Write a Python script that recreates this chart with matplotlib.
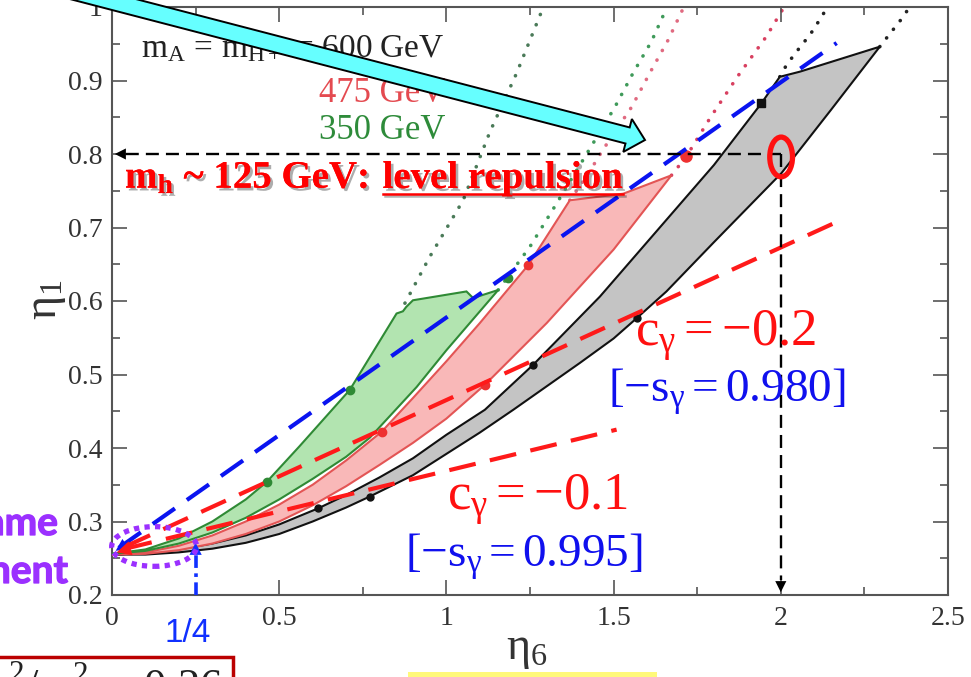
import numpy as np
import matplotlib
matplotlib.use('Agg')
import matplotlib.pyplot as plt
from matplotlib.patches import Ellipse, Polygon, Rectangle
import matplotlib.patheffects as pe

plt.rcParams['font.family'] = ['Liberation Serif', 'DejaVu Serif']
plt.rcParams['mathtext.fontset'] = 'custom'
plt.rcParams['mathtext.rm'] = 'Liberation Serif'
plt.rcParams['mathtext.it'] = 'Liberation Serif:italic'
plt.rcParams['mathtext.bf'] = 'Liberation Serif:bold'

# ---------------- data ----------------
# grey band (m_A = m_H+ = 600 GeV)
gray_upper_x = [0.0, 0.1, 0.2, 0.3, 0.4, 0.5, 0.617, 0.7, 0.8, 0.9, 1.0, 1.115, 1.259, 1.459, 1.6, 1.8, 1.942, 1.977, 1.997, 2.057, 2.296]
gray_upper_y = [0.255, 0.257, 0.262, 0.270, 0.281, 0.296, 0.318, 0.336, 0.360, 0.386, 0.418, 0.452, 0.513, 0.606, 0.680, 0.785, 0.869, 0.892, 0.905, 0.912, 0.946]
gray_lower_x = [0.0, 0.1, 0.2, 0.3, 0.4, 0.5, 0.6, 0.7, 0.771, 0.9, 1.0, 1.1, 1.2, 1.3, 1.4, 1.5, 1.57, 1.658, 1.8, 2.002, 2.15, 2.296]
gray_lower_y = [0.255, 0.255, 0.258, 0.263, 0.271, 0.283, 0.300, 0.319, 0.334, 0.363, 0.392, 0.421, 0.452, 0.484, 0.516, 0.549, 0.577, 0.613, 0.680, 0.774, 0.860, 0.946]

# red band (475 GeV)
red_upper_x = [0.0, 0.1, 0.2, 0.3, 0.4, 0.5, 0.6, 0.7, 0.806, 0.9, 1.0, 1.1, 1.245, 1.3, 1.369, 1.529, 1.673]
red_upper_y = [0.255, 0.258, 0.267, 0.281, 0.300, 0.323, 0.350, 0.383, 0.422, 0.468, 0.518, 0.570, 0.649, 0.688, 0.737, 0.746, 0.771]
red_lower_x = [0.0, 0.1, 0.2, 0.3, 0.4, 0.5, 0.6, 0.7, 0.8, 0.9, 1.0, 1.115, 1.3, 1.5, 1.673]
red_lower_y = [0.255, 0.256, 0.261, 0.270, 0.283, 0.300, 0.322, 0.348, 0.377, 0.407, 0.440, 0.486, 0.570, 0.670, 0.771]

# green band (350 GeV)
green_upper_x = [0.0, 0.1, 0.2, 0.3, 0.4, 0.463, 0.56, 0.711, 0.851, 0.87, 0.88, 0.90, 1.06, 1.08, 1.155]
green_upper_y = [0.256, 0.262, 0.277, 0.300, 0.330, 0.354, 0.402, 0.479, 0.583, 0.586, 0.592, 0.601, 0.613, 0.604, 0.615]
green_lower_x = [0.0, 0.1, 0.2, 0.3, 0.4, 0.5, 0.6, 0.7, 0.771, 0.911, 1.0, 1.155]
green_lower_y = [0.256, 0.260, 0.270, 0.285, 0.305, 0.330, 0.358, 0.388, 0.414, 0.483, 0.533, 0.615]

# dotted continuations
green_dot_a_x = [0.876, 0.95, 1.05, 1.13, 1.21, 1.29]
green_dot_a_y = [0.597, 0.660, 0.737, 0.830, 0.910, 1.0]
green_dot_b_x = [1.155, 1.25, 1.33, 1.426, 1.504, 1.558, 1.613, 1.66]
green_dot_b_y = [0.615, 0.674, 0.733, 0.805, 0.864, 0.910, 0.953, 1.0]
red_dot_a_x = [1.369, 1.42, 1.467, 1.554, 1.608, 1.663, 1.71]
red_dot_a_y = [0.737, 0.770, 0.805, 0.864, 0.910, 0.955, 1.0]
red_dot_b_x = [1.673, 1.718, 1.79, 1.87, 1.957, 2.01]
red_dot_b_y = [0.771, 0.797, 0.850, 0.905, 0.960, 1.0]
black_dot_a_x = [1.997, 2.017, 2.04, 2.062, 2.087, 2.107, 2.14]
black_dot_a_y = [0.905, 0.921, 0.935, 0.948, 0.962, 0.976, 1.0]
black_dot_b_x = [2.296, 2.32, 2.365, 2.385]
black_dot_b_y = [0.946, 0.960, 0.986, 1.0]

# marked points
green_pts_x = [0.463, 0.711, 1.185]
green_pts_y = [0.354, 0.479, 0.631]
red_pts_x = [0.806, 1.115, 1.245]
red_pts_y = [0.422, 0.486, 0.649]
red_big_x = [1.718]
red_big_y = [0.797]
black_pts_x = [0.617, 0.771, 1.259, 1.57]
black_pts_y = [0.318, 0.334, 0.513, 0.577]
black_sq_x = [1.942]
black_sq_y = [0.869]

# straight guide lines
blue_line_x = [0.02, 2.167]
blue_line_y = [0.264, 0.951]
c02_line_x = [0.04, 2.155]
c02_line_y = [0.266, 0.705]
c01_line_x = [0.04, 1.509]
c01_line_y = [0.263, 0.425]
h_line_x = [2.0, 0.0]
h_line_y = [0.8, 0.8]
v_line_x = [2.0, 2.0]
v_line_y = [0.8, 0.2]
quarter_x = [0.25, 0.25]
quarter_y = [0.2, 0.275]

xticks = [0, 0.5, 1, 1.5, 2, 2.5]
xticklabels = ['0', '0.5', '1', '1.5', '2', '2.5']
yticks = [0.2, 0.3, 0.4, 0.5, 0.6, 0.7, 0.8, 0.9, 1.0]
yticklabels = ['0.2', '0.3', '0.4', '0.5', '0.6', '0.7', '0.8', '0.9', '1']

# ---------------- figure ----------------
W, H = 971, 677
fig = plt.figure(figsize=(W / 100, H / 100), dpi=100)
ax = fig.add_axes([112 / W, 1 - 595 / H, 836 / W, 588 / H])


def fp(px, py):
    return px / W, 1 - py / H


ax.set_xlim(0, 2.5)
ax.set_ylim(0.2, 1.0)
ax.set_xticks(xticks)
ax.set_xticklabels(xticklabels)
ax.set_yticks(yticks)
ax.set_yticklabels(yticklabels)
ax.set_xticks(np.arange(0, 2.51, 0.25), minor=True)
ax.set_yticks(np.arange(0.2, 1.001, 0.05), minor=True)
ax.tick_params(which='both', direction='in', top=True, right=True, color='#555555',
               width=1.2, labelsize=20, labelcolor='#333333')
ax.tick_params(which='major', length=11)
ax.tick_params(which='minor', length=5.5)
ax.tick_params(axis='x', pad=8)
ax.tick_params(axis='y', pad=7)
for s in ax.spines.values():
    s.set_color('#555555')
    s.set_linewidth(1.5)

dot_style = dict(lw=2.6, linestyle=(0, (0.05, 3.0)), dash_capstyle='round', zorder=1.5)
ax.plot(green_dot_a_x, green_dot_a_y, color='#4a7a58', **dot_style)
ax.plot(green_dot_b_x, green_dot_b_y, color='#3f9a5a', **dot_style)
ax.plot(red_dot_a_x, red_dot_a_y, color='#e06a80', **dot_style)
ax.plot(red_dot_b_x, red_dot_b_y, color='#d84060', **dot_style)
ax.plot(black_dot_a_x, black_dot_a_y, color='#222222', **dot_style)
ax.plot(black_dot_b_x, black_dot_b_y, color='#222222', **dot_style)


def band(ux, uy, lx, ly, face, edge, z):
    xs = list(ux) + list(lx)[::-1]
    ys = list(uy) + list(ly)[::-1]
    ax.fill(xs, ys, facecolor=face, edgecolor=edge, lw=1.5, zorder=z)


band(gray_upper_x, gray_upper_y, gray_lower_x, gray_lower_y, '#c4c4c4', '#111111', 2)
band(red_upper_x, red_upper_y, red_lower_x, red_lower_y, '#f9b8b8', '#e35555', 3)
band(green_upper_x, green_upper_y, green_lower_x, green_lower_y, '#b2e4b0', '#2f8a35', 4)

ax.plot(green_pts_x, green_pts_y, 'o', color='#2f8a35', ms=6, zorder=5)
ax.plot(red_pts_x, red_pts_y, 'o', color='#ee3030', ms=6, zorder=5)
ax.plot(red_big_x, red_big_y, 'o', color='#ee3030', ms=8, zorder=5)
ax.plot(black_pts_x, black_pts_y, 'o', color='#111111', ms=5, zorder=5)
ax.plot(black_sq_x, black_sq_y, 's', color='#111111', ms=6, zorder=5)

# guide lines
dash = (0, (6.5, 3.5))
ax.plot(blue_line_x, blue_line_y, color='#0a14f0', lw=3.0, linestyle=dash, zorder=6)
ax.plot(c02_line_x, c02_line_y, color='#ff1a1a', lw=3.0, linestyle=dash, zorder=6)
ax.plot(c01_line_x, c01_line_y, color='#ff1a1a', lw=3.0, linestyle=dash, zorder=6)
ax.annotate('', xy=(0.004, 0.258), xytext=(0.05, 0.272),
            arrowprops=dict(arrowstyle='-|>', color='#0a14f0', lw=0, mutation_scale=22), zorder=6)
ax.annotate('', xy=(0.006, 0.257), xytext=(0.06, 0.264),
            arrowprops=dict(arrowstyle='-|>', color='#ff1a1a', lw=0, mutation_scale=26), zorder=7)

ax.plot([h_line_x[0], h_line_x[1] + 0.03], h_line_y, color='black', lw=1.7,
        linestyle=(0, (5.5, 3)), zorder=6, clip_on=False)
ax.annotate('', xy=(h_line_x[1], h_line_y[1]), xytext=(h_line_x[1] + 0.05, h_line_y[1]),
            arrowprops=dict(arrowstyle='-|>', color='black', lw=0, mutation_scale=20), zorder=6)
ax.plot(v_line_x, [v_line_y[0], v_line_y[1] + 0.02], color='black', lw=1.7,
        linestyle=(0, (5.5, 3)), zorder=6)
ax.annotate('', xy=(v_line_x[1], v_line_y[1]), xytext=(v_line_x[1], v_line_y[1] + 0.03),
            arrowprops=dict(arrowstyle='-|>', color='black', lw=0, mutation_scale=20), zorder=6)

ax.plot(quarter_x, [quarter_y[0], quarter_y[1] - 0.015], color='#1030ff', lw=2.6,
        linestyle=(0, (3.5, 1.5, 1, 1.5)), zorder=6)
ax.annotate('', xy=(quarter_x[1], quarter_y[1]), xytext=(quarter_x[1], quarter_y[1] - 0.025),
            arrowprops=dict(arrowstyle='-|>', color='#1030ff', lw=0, mutation_scale=22), zorder=6)

ax.add_patch(Ellipse((2.001, 0.796), 0.068, 0.054, fill=False, edgecolor='#ff1010', lw=3.8, zorder=7))
ax.add_patch(Ellipse((0.126, 0.266), 0.254, 0.054, fill=False, edgecolor='#9b30ff', lw=3.8,
                     linestyle=(0, (1, 1)), zorder=7, clip_on=False))

# legend-like labels
fig.text(*fp(445, 57), r'$\mathrm{m_A\,=\,m_{H+}\,=\,600\ GeV}$', ha='right', va='baseline',
         fontsize=24, color='#222222')
fig.text(*fp(445, 102), '475 GeV', ha='right', va='baseline', fontsize=25, color='#e44a50')
fig.text(*fp(445, 139), '350 GeV', ha='right', va='baseline', fontsize=25, color='#2e8b3a')

# c_gamma labels
fig.text(*fp(726, 346), r'$\mathrm{c_{\gamma} = -0.2}$', ha='center', va='baseline', fontsize=38, color='#ff1010')
fig.text(*fp(727, 402), r'$\mathrm{[-s_{\gamma} = 0.980]}$', ha='center', va='baseline', fontsize=34, color='#1010ee')
fig.text(*fp(537, 510), r'$\mathrm{c_{\gamma} = -0.1}$', ha='center', va='baseline', fontsize=38, color='#ff1010')
fig.text(*fp(524, 567), r'$\mathrm{[-s_{\gamma} = 0.995]}$', ha='center', va='baseline', fontsize=34, color='#1010ee')

# axis labels
fig.text(*fp(47, 300), r'$\mathrm{\eta_1}$', rotation=90, ha='center', va='center', fontsize=33, color='#333333')
fig.text(*fp(527, 650), r'$\mathrm{\eta_6}$', ha='center', va='center', fontsize=33, color='#333333')

# 1/4
fig.text(*fp(188, 633), '1/4', ha='center', va='center', fontsize=24, color='#1030ff', family='Liberation Sans')

# purple partial words
purple_fx = [pe.withStroke(linewidth=0.9, foreground='#9b30ff')]
fig.text(*fp(58, 535), 'ame', ha='right', va='baseline', fontsize=28, color='#9b30ff',
         family='Lato', weight='bold', path_effects=purple_fx)
fig.text(*fp(68, 583), 'ment', ha='right', va='baseline', fontsize=28, color='#9b30ff',
         family='Lato', weight='bold', path_effects=purple_fx)

# level repulsion text with shadow
shadow = [pe.withSimplePatchShadow(offset=(2, -2), shadow_rgbFace='#777777', alpha=0.6), pe.Normal()]
t1 = fig.text(*fp(125, 188), r'$\mathbf{m_h}$' + ' ~ 125 GeV:', ha='left', va='baseline',
              fontsize=28, color='#ff0000', weight='bold', path_effects=shadow, zorder=10)
fig.canvas.draw()
r = fig.canvas.get_renderer()
bb1 = t1.get_window_extent(r)
t2 = fig.text((bb1.x1 + 14) / W, 1 - 188 / H, 'level repulsion', ha='left', va='baseline',
              fontsize=28, color='#ff0000', weight='bold', path_effects=shadow, zorder=10)
fig.canvas.draw()
bb2 = t2.get_window_extent(r)
ul = plt.Line2D([bb2.x0 / W, bb2.x1 / W], [1 - 194 / H, 1 - 194 / H], transform=fig.transFigure,
                color='#ff0000', lw=1.8, zorder=10,
                path_effects=[pe.SimpleLineShadow(offset=(1.5, -1.5)), pe.Normal()])
fig.add_artist(ul)

# cyan block arrow (annotation)
tip = np.array([645.0, 140.0])
ang = np.arctan(0.26)
d = np.array([np.cos(ang), np.sin(ang)])
n = np.array([-np.sin(ang), np.cos(ang)])
head_len, head_hw, shaft_hw, total = 18.0, 17.0, 8.3, 760.0
base = tip - head_len * d
tail = tip - total * d
pts = [tail + shaft_hw * n, base + shaft_hw * n, base + head_hw * n, tip,
       base - head_hw * n, base - shaft_hw * n, tail - shaft_hw * n]
pts_fig = [fp(p[0], p[1]) for p in pts]
fig.add_artist(Polygon(pts_fig, closed=True, transform=fig.transFigure, facecolor='#66ffff',
                       edgecolor='black', lw=1.4, zorder=12, clip_on=False))

# bottom boxes
fig.add_artist(Rectangle(fp(-10, 700), 243 / W, 43 / H, transform=fig.transFigure, facecolor='white',
                         edgecolor='#bb0000', lw=2.5, zorder=11, clip_on=False))
fig.text(*fp(222, 699), r'$\mathrm{m_h^2/m_A^2 \sim 0.26}$', ha='right', va='baseline', fontsize=32,
         color='#222222', zorder=12)
fig.add_artist(Rectangle(fp(408, 690), 249 / W, 18 / H, transform=fig.transFigure, facecolor='#fff97a',
                         edgecolor='none', zorder=11, clip_on=False))

fig.savefig('out.png', dpi=100)
